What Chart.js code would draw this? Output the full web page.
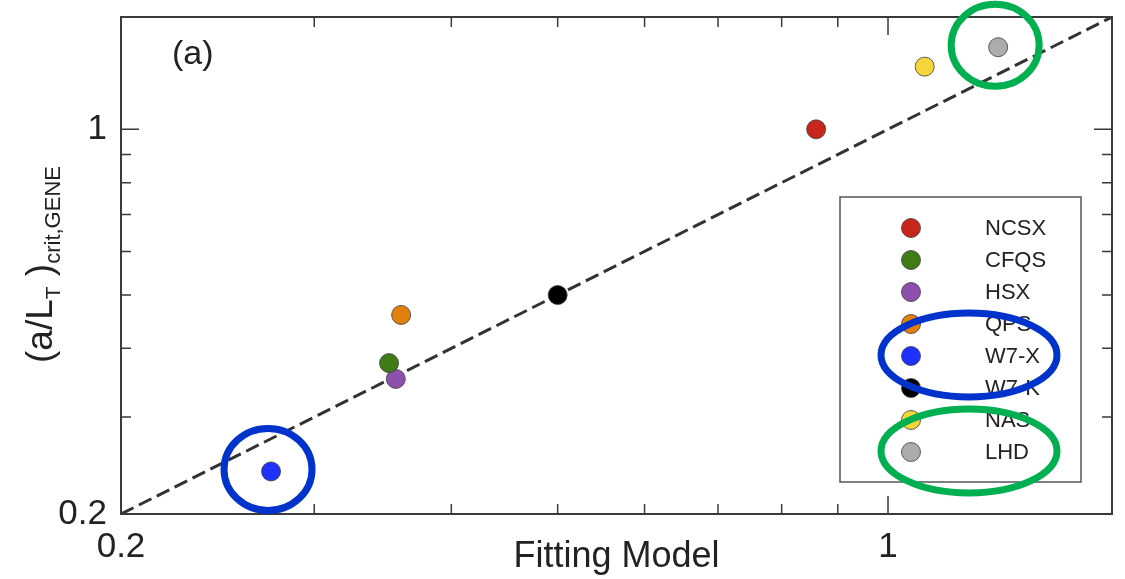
<!DOCTYPE html>
<html lang="en">
<head>
<meta charset="UTF-8">
<title>(a/LT)crit,GENE vs Fitting Model</title>
<script src="https://cdn.jsdelivr.net/npm/chart.js"></script>
<style>
  html, body { margin: 0; padding: 0; background: #fff; }
  #wrap { width: 1125px; height: 579px; }
</style>
</head>
<body>
<div id="wrap"><canvas id="mainChart" width="1125" height="579"></canvas></div>
<script>
// --- data ---
const devices = ['NCSX', 'CFQS', 'HSX', 'QPS', 'W7-X', 'W7-K', 'NAS', 'LHD'];
const fittingModel = [0.86, 0.351, 0.356, 0.36, 0.274, 0.50, 1.08, 1.26];
const geneCrit = [1.00, 0.376, 0.352, 0.46, 0.239, 0.50, 1.30, 1.41];
const deviceColors = ['#c8261c', '#3f7c16', '#8e50ad', '#e2800e', '#2030ff', '#000000', '#f4d63a', '#acacac'];
const diagonal = [0.2, 1.6];
const majorTicks = [0.2, 1];
const minorTicks = [0.3, 0.4, 0.5, 0.6, 0.7, 0.8, 0.9];
const circledBlue = 'W7-X';
const circledGreen = 'LHD';

const FONT = "'Liberation Sans', Arial, sans-serif";
const TEXT = '#222';
const BLUE_RING = '#0033cc';
const GREEN_RING = '#00b050';

function ring(ctx, x, y, rx, ry, color) {
    ctx.save();
    ctx.beginPath();
    ctx.ellipse(x, y, rx, ry, 0, 0, Math.PI * 2);
    ctx.lineWidth = 7;
    ctx.strokeStyle = color;
    ctx.stroke();
    ctx.restore();
}

// frame with inward ticks on all four sides
const framePlugin = {
    id: 'frame',
    afterDatasetsDraw(chart) {
        const { ctx, chartArea: a, scales } = chart;
        ctx.save();
        ctx.strokeStyle = '#3a3a3a';
        ctx.lineWidth = 2;
        ctx.strokeRect(a.left, a.top, a.right - a.left, a.bottom - a.top);
        const tick = (v, len) => {
            const px = scales.x.getPixelForValue(v);
            const py = scales.y.getPixelForValue(v);
            ctx.beginPath();
            ctx.moveTo(px, a.bottom); ctx.lineTo(px, a.bottom - len);
            ctx.moveTo(px, a.top); ctx.lineTo(px, a.top + len);
            ctx.moveTo(a.left, py); ctx.lineTo(a.left + len, py);
            ctx.moveTo(a.right, py); ctx.lineTo(a.right - len, py);
            ctx.stroke();
        };
        ctx.lineWidth = 1.5;
        minorTicks.forEach(v => tick(v, 10));
        majorTicks.forEach(v => tick(v, 18));
        ctx.restore();
    }
};

// y title with subscripts, panel tag, legend box, highlight rings
const overlayPlugin = {
    id: 'overlay',
    afterDraw(chart) {
        const { ctx, chartArea: a, scales } = chart;
        ctx.save();
        ctx.fillStyle = TEXT;
        ctx.textBaseline = 'alphabetic';

        // y axis title
        ctx.save();
        ctx.translate(52, 363);
        ctx.rotate(-Math.PI / 2);
        let x = 0;
        const part = (s, size, dy) => {
            ctx.font = size + 'px ' + FONT;
            ctx.fillText(s, x, dy);
            x += ctx.measureText(s).width;
        };
        part('(a/L', 37, 0);
        part('T', 21, 8);
        part(' )', 37, 0);
        part('crit,GENE', 22, 8);
        ctx.restore();

        // panel tag
        ctx.font = '34px ' + FONT;
        ctx.textBaseline = 'middle';
        ctx.fillText('(a)', a.left + 51, a.top + 38);

        // legend
        const box = { l: a.right - 272, r: a.right - 31, t: a.top + 180, b: a.bottom - 32 };
        ctx.fillStyle = '#fff';
        ctx.fillRect(box.l, box.t, box.r - box.l, box.b - box.t);
        ctx.strokeStyle = '#555';
        ctx.lineWidth = 1.5;
        ctx.strokeRect(box.l, box.t, box.r - box.l, box.b - box.t);
        const rowY = i => box.t + 31 + i * 32;
        const dotX = box.l + 71;
        const txtX = box.l + 145;
        ctx.font = '22px ' + FONT;
        ctx.textBaseline = 'middle';
        devices.forEach((d, i) => {
            const ds = chart.data.datasets.find(s => s.label === d);
            ctx.beginPath();
            ctx.arc(dotX, rowY(i), 9.5, 0, Math.PI * 2);
            ctx.fillStyle = ds.backgroundColor;
            ctx.fill();
            ctx.lineWidth = 1;
            ctx.strokeStyle = 'rgba(60,60,60,0.8)';
            ctx.stroke();
            ctx.fillStyle = TEXT;
            ctx.fillText(d, txtX, rowY(i) + 1);
        });

        // highlight rings
        [[circledBlue, BLUE_RING], [circledGreen, GREEN_RING]].forEach(([name, col]) => {
            const i = devices.indexOf(name);
            const px = scales.x.getPixelForValue(fittingModel[i]);
            const py = scales.y.getPixelForValue(geneCrit[i]);
            ring(ctx, px - 3, py - 2, 44, 41, col);
            ring(ctx, box.l + 129, rowY(i) - 1, 88, 42, col);
        });
        ctx.restore();
    }
};

const pointSets = devices.map((d, i) => ({
    label: d,
    data: [{ x: fittingModel[i], y: geneCrit[i] }],
    backgroundColor: deviceColors[i],
    borderColor: 'rgba(60,60,60,0.8)',
    borderWidth: 1,
    pointRadius: 9.5,
    pointHoverRadius: 9.5,
    order: 0
}));

const axisTicks = {
    font: { family: FONT, size: 35 },
    color: TEXT,
    autoSkip: false,
    maxRotation: 0,
    callback: v => String(v)
};

new Chart(document.getElementById('mainChart'), {
    type: 'scatter',
    data: {
        datasets: [{
            type: 'line',
            label: 'y = x',
            data: diagonal.map(v => ({ x: v, y: v })),
            borderColor: '#333',
            borderDash: [14, 6],
            borderWidth: 3,
            pointRadius: 0,
            fill: false,
            order: 10
        }, ...pointSets]
    },
    options: {
        responsive: false,
        animation: false,
        layout: { padding: { top: 17, right: 13, left: 0, bottom: 0 } },
        plugins: { legend: { display: false }, tooltip: { enabled: false } },
        scales: {
            x: {
                type: 'logarithmic',
                min: diagonal[0],
                max: diagonal[1],
                afterBuildTicks: s => { s.ticks = majorTicks.map(v => ({ value: v })); },
                afterFit: s => { s.height = 65; s.paddingLeft = 0; s.paddingRight = 0; },
                ticks: { ...axisTicks, padding: 12 },
                grid: { display: false, drawTicks: false },
                border: { display: false },
                title: {
                    display: true,
                    text: 'Fitting Model',
                    color: TEXT,
                    font: { family: FONT, size: 36 },
                    padding: { top: 0, bottom: 0 }
                }
            },
            y: {
                type: 'logarithmic',
                min: diagonal[0],
                max: diagonal[1],
                afterBuildTicks: s => { s.ticks = majorTicks.map(v => ({ value: v })); },
                afterFit: s => { s.width = 121; s.paddingTop = 0; s.paddingBottom = 0; },
                ticks: { ...axisTicks, padding: 14 },
                grid: { display: false, drawTicks: false },
                border: { display: false }
            }
        }
    },
    plugins: [framePlugin, overlayPlugin]
});
</script>
</body>
</html>
